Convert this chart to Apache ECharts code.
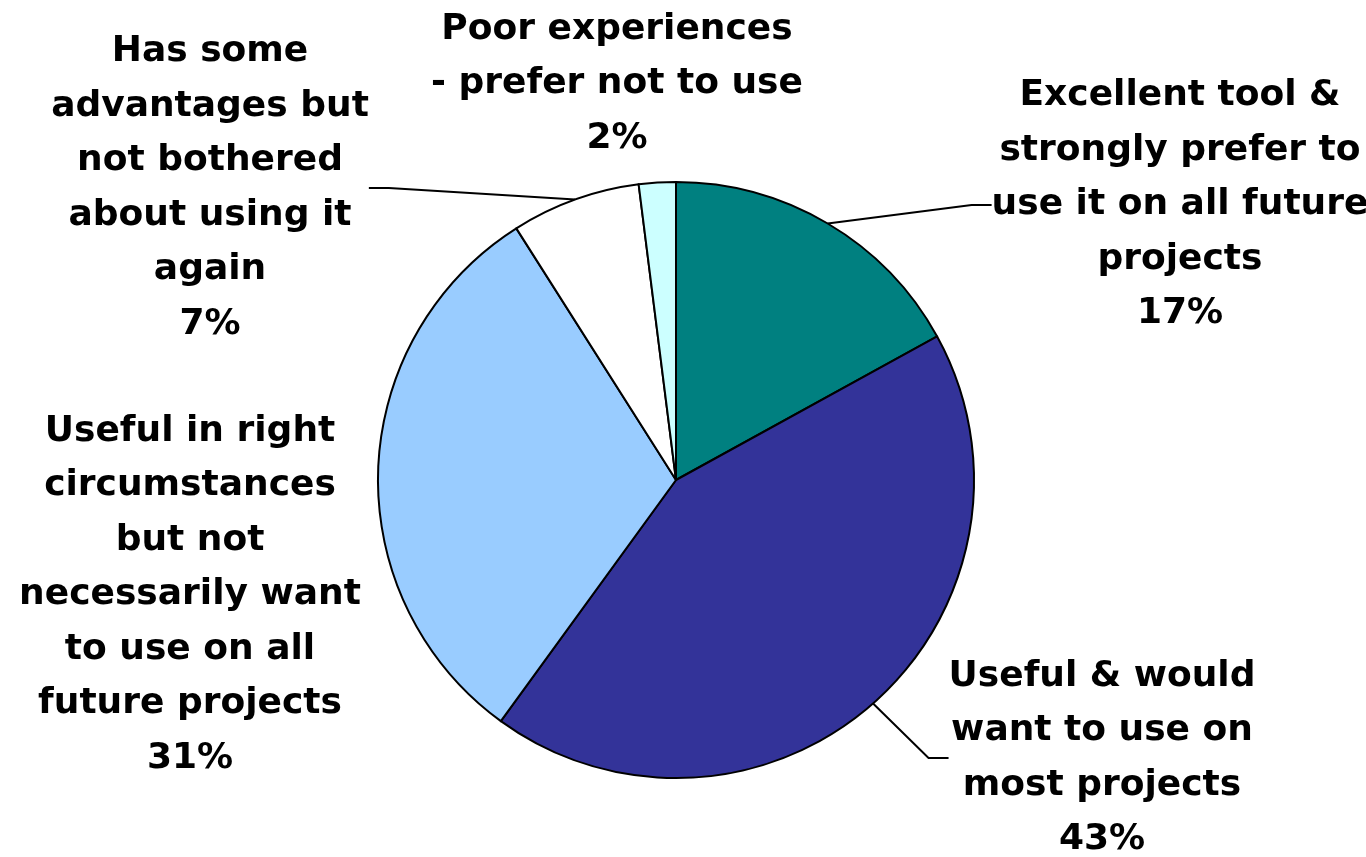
<!DOCTYPE html>
<html>
<head>
<meta charset="utf-8">
<script src="https://cdn.jsdelivr.net/npm/echarts@6/dist/echarts.min.js"></script>
<style>
html,body{margin:0;padding:0;background:#fff;}
#chart{width:1366px;height:857px;}
</style>
</head>
<body>
<div id="chart"></div>
<script>
// Data
const categories = [
  'Excellent tool &\nstrongly prefer to\nuse it on all future\nprojects',
  'Useful & would\nwant to use on\nmost projects',
  'Useful in right\ncircumstances\nbut not\nnecessarily want\nto use on all\nfuture projects',
  'Has some\nadvantages but\nnot bothered\nabout using it\nagain',
  'Poor experiences\n- prefer not to use'
];
const values = [17, 43, 31, 7, 2];
const colors = ['#008080', '#333399', '#99CCFF', '#FFFFFF', '#CCFFFF'];
const showLine = [true, true, false, true, false];

// label centre placement (layout only)
const labelPos = [
  [1180, 205],
  [1102, 758],
  [190, 595],
  [210, 188],
  [617, 84]
];

const chart = echarts.init(document.getElementById('chart'), null, {renderer: 'canvas'});
const data = categories.map((c, i) => ({
  name: c,
  value: values[i],
  itemStyle: {color: colors[i]},
  labelLine: {show: showLine[i]}
}));

chart.setOption({
  animation: false,
  backgroundColor: '#ffffff',
  series: [{
    type: 'pie',
    center: [676, 480],
    radius: 298,
    startAngle: 90,
    clockwise: true,
    data: data,
    itemStyle: {borderColor: '#000', borderWidth: 2},
    label: {
      show: true,
      position: 'outside',
      formatter: p => p.name + '\n' + p.value + '%',
      fontFamily: 'DejaVu Sans',
      fontWeight: 'bold',
      fontSize: 36,
      lineHeight: 54.5,
      color: '#000',
      align: 'center',
      overflow: 'none'
    },
    labelLine: {
      show: true,
      length: 20,
      length2: 20,
      lineStyle: {color: '#000', width: 2}
    },
    labelLayout: function (params) {
      const p = labelPos[params.dataIndex];
      return {x: p[0], y: p[1], align: 'center', verticalAlign: 'middle', hideOverlap: false, moveOverlap: null};
    }
  }]
});
</script>
</body>
</html>
